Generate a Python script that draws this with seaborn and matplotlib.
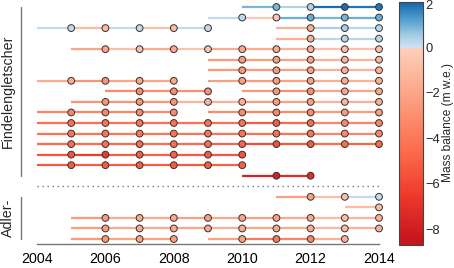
import numpy as np
import pandas as pd
import matplotlib
matplotlib.use("Agg")
import matplotlib.pyplot as plt
import matplotlib.colors as mcolors
import matplotlib.transforms as mtransforms
from matplotlib.cm import ScalarMappable
from matplotlib.ticker import FixedLocator
import seaborn as sns

# ---------------- data ----------------
# each run: row index (top = 0), start year, list of annual mass-balance values
run_rows = [0, 1, 2, 2, 3, 4, 5, 6, 7, 7, 8, 8, 9, 10, 10, 11, 12, 13, 14, 15, 16,
            18, 19, 20, 21, 22, 22]
run_starts = [2010, 2009, 2004, 2011, 2011, 2005, 2009, 2009, 2004, 2009, 2006, 2010,
              2005, 2004, 2009, 2004, 2004, 2004, 2004, 2004, 2010,
              2011, 2013, 2005, 2005, 2005, 2009]
run_values = [
    [0.9, 0.4, 1.9, 1.8],
    [0.2, -0.5, 1.0, 0.9, 1.0],
    [0.2, -1.0, 0.2, -0.9, 0.2],
    [-1.5, 0.5, 0.3],
    [-1.6, 0.3, 0.3],
    [-2.0, -0.8, -1.8, -0.7, -1.8, -1.7, -1.5, -0.8, -0.8],
    [-2.5, -2.4, -2.2, -1.5, -1.3],
    [-2.6, -2.5, -2.3, -1.6, -1.4],
    [-1.7, -2.8, -2.0, -2.0],
    [-2.3, -2.4, -2.2, -1.6, -1.5],
    [-3.2, -3.0, -3.0],
    [-2.6, -3.0, -2.0, -1.9],
    [-2.8, -2.7, -2.7, -1.4, -1.5, -2.4, -2.3, -1.4, -1.6],
    [-3.5, -3.4, -3.3, -3.2],
    [-3.2, -3.4, -3.2, -2.5, -2.4],
    [-4.4, -4.3, -4.2, -4.3, -4.4, -4.4, -5.2, -4.6, -3.4, -3.5],
    [-4.2, -4.1, -4.0, -4.1, -4.2, -4.2, -4.3, -4.2, -3.3, -3.4],
    [-4.6, -4.5, -4.6, -4.5, -4.6, -4.9, -5.8, -5.3, -4.5, -4.8],
    [-5.5, -6.5, -5.2, -5.0, -5.3, -5.5],
    [-5.3, -5.2, -5.1, -5.2, -5.3, -5.0],
    [-7.8, -7.2],
    [-2.3, -0.8, 0.2],
    [-1.0],
    [-2.5, -1.7, -1.8, -2.3, -1.9, -2.3, -1.8, -1.0, -1.4],
    [-2.4, -1.8, -1.8, -2.0, -1.6, -2.0, -1.8, -1.2, -1.5],
    [-2.6, -2.0, -2.2],
    [-2.2, -3.8, -3.5, -1.5],
]
glacier_names = ["Findelengletscher", "Adler-"]
glacier_rows = [(0, 16), (18, 22)]
separator_row = 17
xtick_major = [2004, 2006, 2008, 2010, 2012, 2014]
xtick_minor = [2005, 2007, 2009, 2011, 2013]
cbar_ticks = [2, 0, -2, -4, -6, -8]
cbar_minor = [1, -1, -3, -5, -7]
cbar_label = "Mass balance (m w.e.)"
vmin, vmax = -8.7, 2.0

# ---------------- style ----------------
sns.set_style("white")
plt.rcParams['font.family'] = ['Liberation Sans', 'DejaVu Sans']

recs = []
for r, s, vals in zip(run_rows, run_starts, run_values):
    for i, v in enumerate(vals):
        recs.append(dict(row=r, x0=s + i, x1=s + i + 1, value=v))
df = pd.DataFrame(recs)

grid = np.linspace(vmin, vmax, 1071)
reds = plt.get_cmap('Reds')
blues = plt.get_cmap('Blues')
cols = [reds(0.18 + (-v) / 8.7 * 0.60) if v < 0 else blues(0.20 + v / 2.0 * 0.60) for v in grid]
cmap = mcolors.ListedColormap(cols)
norm = mcolors.Normalize(vmin, vmax)

W, H = 454, 268
fig = plt.figure(figsize=(W / 100, H / 100), dpi=100)
ax = fig.add_axes([21 / W, 24 / H, 364 / W, 242 / H])

ax.hlines(df.row, df.x0, df.x1, colors=cmap(norm(df.value.values)), lw=1.6, zorder=2)
sns.scatterplot(data=df, x='x1', y='row', hue='value', palette=cmap, hue_norm=norm,
                s=24, edgecolor='#333333', linewidth=0.7, legend=False, ax=ax, zorder=3)

ax.set_xlim(2003.532, 2014.175)
ax.set_ylim(22.474, -0.474)
ax.set_xlabel('')
ax.set_ylabel('')
ax.set_yticks([])
for s in ['top', 'right', 'left']:
    ax.spines[s].set_visible(False)
ax.spines['bottom'].set_bounds(2004, 2014)
ax.spines['bottom'].set_color('#777777')
ax.spines['bottom'].set_linewidth(1.0)
ax.set_xticks(xtick_major)
ax.set_xticks(xtick_minor, minor=True)
ax.set_xticklabels([str(t) for t in xtick_major])
ax.tick_params(axis='x', which='major', length=4, width=1, color='#777777', pad=2,
               labelsize=10.3, labelcolor='black')
ax.tick_params(axis='x', which='minor', length=2, width=1, color='#777777')

trans = mtransforms.blended_transform_factory(ax.transAxes, ax.transData)
for name, (r0, r1) in zip(glacier_names, glacier_rows):
    ax.plot([0, 0], [r0, r1], transform=trans, color='#777777', lw=1, clip_on=False)
    ax.text(-0.0357, (r0 + r1) / 2, name, transform=trans, rotation=90,
            ha='center', va='center', fontsize=10.3)

ax.hlines(separator_row, xtick_major[0], xtick_major[-1], colors='#777777',
          linestyles=(0, (1, 2.6)), lw=1)

cax = fig.add_axes([399 / W, 23 / H, 24 / W, 243 / H])
cb = fig.colorbar(ScalarMappable(norm=norm, cmap=cmap), cax=cax)
cb.set_ticks(cbar_ticks)
cb.ax.yaxis.set_minor_locator(FixedLocator(cbar_minor))
cb.ax.tick_params(which='both', direction='in', length=3, width=0.8, color='#555555',
                  labelsize=9.3, pad=1.5)
cb.outline.set_edgecolor('#444444')
cb.outline.set_linewidth(0.8)
fig.text(448.5 / W, 1 - 123 / H, cbar_label, rotation=90, ha='center', va='center',
         fontsize=8.6)

# nudge the top colorbar label slightly down so it is not clipped
for lab in cb.ax.get_yticklabels():
    if lab.get_text() == '2':
        lab.set_transform(lab.get_transform() +
                          mtransforms.ScaledTranslation(0, -2.5 / 100, fig.dpi_scale_trans))

fig.savefig('out.png', dpi=100)
